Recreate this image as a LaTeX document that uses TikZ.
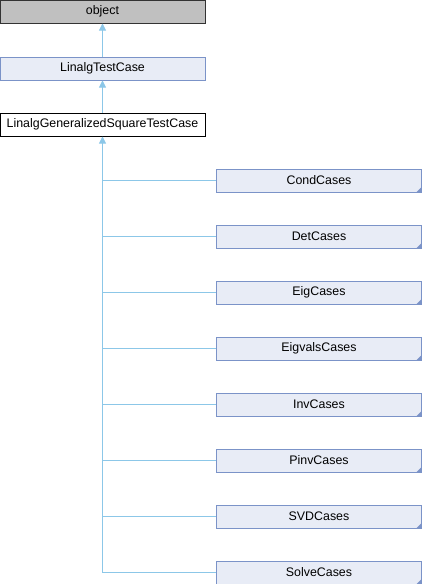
\documentclass[tikz,border=0pt]{standalone}
\usepackage{fontspec}
\setmainfont{Liberation Sans}
\usetikzlibrary{arrows.meta}
\definecolor{edgec}{HTML}{8CC7E8}
\definecolor{boxfill}{HTML}{E8ECF6}
\definecolor{boxdraw}{HTML}{7B93C8}
\definecolor{objfill}{HTML}{C0C0C0}
\begin{document}
\begin{tikzpicture}[x=1pt,y=-1pt,
  base/.style={draw, line width=1pt, minimum width=205pt, minimum height=23pt, inner sep=0pt, font=\fontsize{12.4}{14}\selectfont, anchor=center},
  objbox/.style={base, fill=objfill, draw=black!80},
  clsbox/.style={base, fill=boxfill, draw=boxdraw},
  plainbox/.style={base, fill=white, draw=black},
  inh/.style={draw=edgec, line width=0.9pt},
  inharrow/.style={inh, -{Triangle[length=7pt,width=7pt,fill=edgec]}},
  corner/.style={fill=boxdraw, draw=none}
]
\useasboundingbox (0,0) rectangle (422,584);
\node[objbox] (obj) at (102.5,11.5) {object};
\node[clsbox] (ltc) at (102.5,68.5) {LinalgTestCase};
\node[plainbox] (lgs) at (102.5,124.5) {LinalgGeneralizedSquareTestCase};
\draw[inharrow] (ltc.north) -- (obj.south);
\draw[inharrow] (lgs.north) -- (ltc.south);
\foreach \name/\txt/\y in {cond/CondCases/180.5, det/DetCases/236.5, eig/EigCases/292.5, eigv/EigvalsCases/348.5, inv/InvCases/404.5, pinv/PinvCases/460.5, svd/SVDCases/516.5, solve/SolveCases/572.5}{
  \node[clsbox] (\name) at (319,\y) {\txt};
  \fill[corner] (\name.south east) -- ++(0,-6) -- ++(-6,6) -- cycle;
  \coordinate (j\name) at (lgs.south |- \name.west);
}
\draw[inharrow] (jsolve) -- (lgs.south);
\foreach \name in {cond,det,eig,eigv,inv,pinv,svd,solve}{
  \draw[inh] (j\name) -- (\name.west);
}
\end{tikzpicture}
\end{document}
